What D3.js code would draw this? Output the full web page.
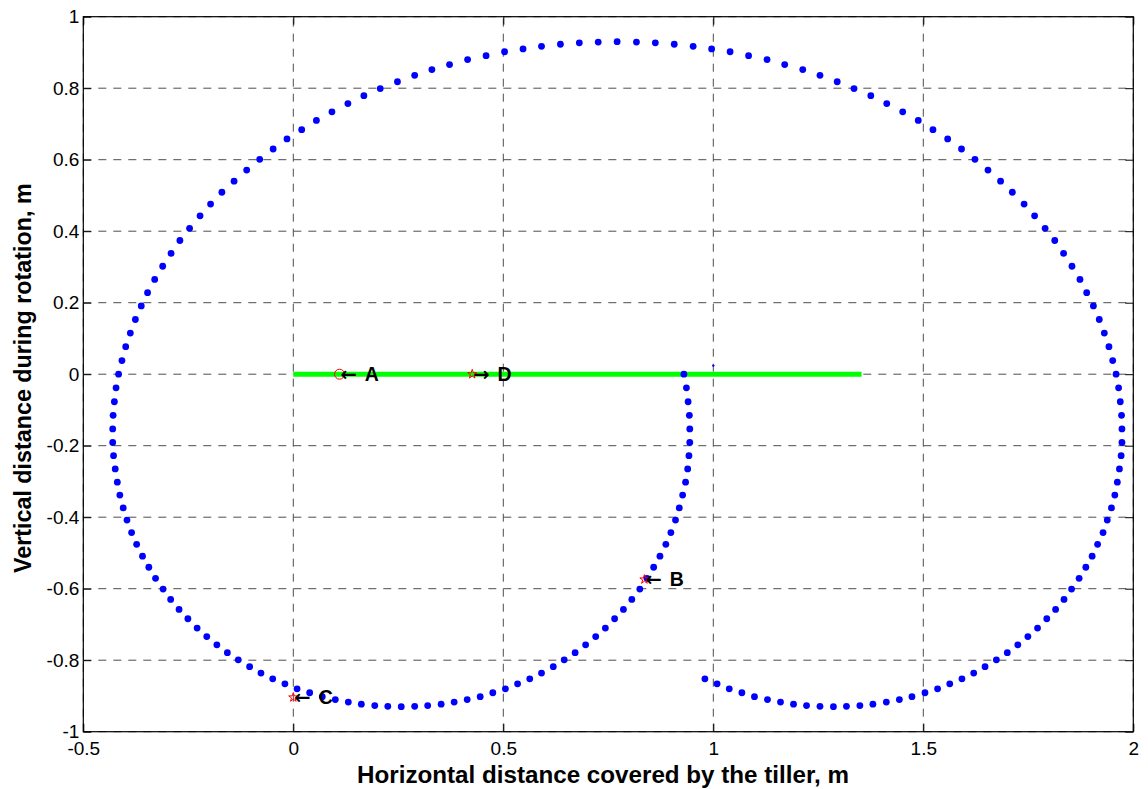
<!DOCTYPE html>
<html>
<head>
<meta charset="utf-8">
<script src="https://cdn.jsdelivr.net/npm/d3@7"></script>
<style>
  body { margin: 0; background: #fff; }
  text { font-family: "Liberation Sans", Arial, Helvetica, sans-serif; }
</style>
</head>
<body>
<svg id="chart" width="1148" height="789"></svg>
<script>
// Path of the blade tip (trochoid), one point per time step
const pathX = [
  0.930,0.936,0.940,0.943,0.944,0.944,0.942,0.939,0.934,0.927,0.919,0.910,0.899,0.887,0.873,0.858,0.842,0.825,0.806,0.786,
  0.765,0.743,0.720,0.696,0.671,0.645,0.619,0.591,0.563,0.534,0.505,0.475,0.445,0.414,0.383,0.352,0.320,0.289,
  0.257,0.225,0.194,0.162,0.131,0.100,0.069,0.039,0.009,-0.020,-0.049,-0.077,-0.104,-0.131,-0.157,-0.182,-0.206,-0.229,
  -0.251,-0.272,-0.292,-0.310,-0.328,-0.344,-0.359,-0.373,-0.385,-0.396,-0.405,-0.413,-0.419,-0.424,-0.428,-0.430,-0.430,-0.429,-0.426,-0.422,
  -0.416,-0.408,-0.399,-0.388,-0.376,-0.362,-0.347,-0.330,-0.311,-0.291,-0.270,-0.247,-0.222,-0.197,-0.170,-0.141,-0.111,-0.080,-0.048,-0.015,
  0.020,0.055,0.092,0.130,0.168,0.207,0.248,0.289,0.330,0.372,0.415,0.459,0.503,0.547,0.591,0.636,0.681,0.726,
  0.771,0.817,0.862,0.907,0.952,0.996,1.040,1.084,1.128,1.170,1.213,1.254,1.295,1.335,1.375,1.413,1.451,1.488,1.523,1.558,
  1.591,1.623,1.654,1.684,1.712,1.740,1.765,1.790,1.813,1.834,1.854,1.873,1.889,1.905,1.919,1.931,1.942,1.951,
  1.959,1.965,1.969,1.972,1.973,1.973,1.971,1.967,1.962,1.956,1.948,1.938,1.928,1.915,1.902,1.887,1.871,1.853,1.835,1.815,
  1.794,1.772,1.749,1.725,1.700,1.674,1.647,1.620,1.592,1.563,1.534,1.504,1.473,1.443,1.412,1.380,1.349,1.317,
  1.286,1.254,1.222,1.191,1.160,1.129,1.098,1.068,1.038,1.009,0.980
];
const pathY = [
  0,-0.038,-0.077,-0.115,-0.153,-0.191,-0.228,-0.265,-0.302,-0.338,-0.374,-0.408,-0.443,-0.476,-0.509,-0.540,-0.571,-0.601,-0.630,-0.658,
  -0.684,-0.710,-0.734,-0.757,-0.779,-0.799,-0.818,-0.836,-0.852,-0.866,-0.880,-0.891,-0.902,-0.910,-0.917,-0.923,-0.927,-0.929,
  -0.930,-0.929,-0.927,-0.923,-0.917,-0.910,-0.902,-0.891,-0.880,-0.866,-0.852,-0.836,-0.818,-0.799,-0.779,-0.757,-0.734,-0.710,
  -0.684,-0.658,-0.630,-0.601,-0.571,-0.540,-0.509,-0.476,-0.443,-0.408,-0.374,-0.338,-0.302,-0.265,-0.228,-0.191,-0.153,-0.115,-0.077,-0.038,
  0,0.038,0.077,0.115,0.153,0.191,0.228,0.265,0.302,0.338,0.374,0.408,0.443,0.476,0.509,0.540,0.571,0.601,0.630,0.658,
  0.684,0.710,0.734,0.757,0.779,0.799,0.818,0.836,0.852,0.866,0.880,0.891,0.902,0.910,0.917,0.923,0.927,0.929,
  0.930,0.929,0.927,0.923,0.917,0.910,0.902,0.891,0.880,0.866,0.852,0.836,0.818,0.799,0.779,0.757,0.734,0.710,0.684,0.658,
  0.630,0.601,0.571,0.540,0.509,0.476,0.443,0.408,0.374,0.338,0.302,0.265,0.228,0.191,0.153,0.115,0.077,0.038,
  0,-0.038,-0.077,-0.115,-0.153,-0.191,-0.228,-0.265,-0.302,-0.338,-0.374,-0.408,-0.443,-0.476,-0.509,-0.540,-0.571,-0.601,-0.630,-0.658,
  -0.684,-0.710,-0.734,-0.757,-0.779,-0.799,-0.818,-0.836,-0.852,-0.866,-0.880,-0.891,-0.902,-0.910,-0.917,-0.923,-0.927,-0.929,
  -0.930,-0.929,-0.927,-0.923,-0.917,-0.910,-0.902,-0.891,-0.880,-0.866,-0.852
];

// Forward travel of the tiller along the ground line
const trackX = [0, 1.353];
const trackY = [0, 0];

// Small stray point plotted just above the ground line
const strayX = [1.0];
const strayY = [0.024];

// Annotated positions
const markerNames = ["A", "D", "B", "C"];
const markerX = [0.11, 0.426, 0.836, 0.0];
const markerY = [0, 0, -0.574, -0.904];
const markerShape = ["circle", "star", "star", "star"];
const markerArrow = ["\u2190", "\u2192", "\u2190", "\u2190"];

const xTicks = [-0.5, 0, 0.5, 1, 1.5, 2];
const xTickLabels = ["-0.5", "0", "0.5", "1", "1.5", "2"];
const yTicks = [-1, -0.8, -0.6, -0.4, -0.2, 0, 0.2, 0.4, 0.6, 0.8, 1];
const yTickLabels = ["-1", "-0.8", "-0.6", "-0.4", "-0.2", "0", "0.2", "0.4", "0.6", "0.8", "1"];

const xTitle = "Horizontal distance covered by the tiller, m";
const yTitle = "Vertical distance during rotation, m";

// Layout
const plot = { left: 83.3, right: 1133.3, top: 16.7, bottom: 731.7 };
const svg = d3.select("#chart");

const x = d3.scaleLinear().domain([-0.5, 2]).range([plot.left, plot.right]);
const y = d3.scaleLinear().domain([-1, 1]).range([plot.bottom, plot.top]);

// Grid
const grid = svg.append("g").attr("stroke", "#4d4d4d").attr("stroke-width", 1)
  .attr("stroke-dasharray", "8,7");
grid.selectAll("line.gx").data(xTicks).join("line").attr("class", "gx")
  .attr("x1", d => x(d)).attr("x2", d => x(d))
  .attr("y1", plot.bottom).attr("y2", plot.top);
grid.selectAll("line.gy").data(yTicks).join("line").attr("class", "gy")
  .attr("x1", plot.left).attr("x2", plot.right)
  .attr("y1", d => y(d)).attr("y2", d => y(d));

// Axes (ticks pointing inward on all four sides)
const fmtX = (d, i) => xTickLabels[i];
const fmtY = (d, i) => yTickLabels[i];

function styleAxis(g) {
  g.select(".domain").remove();
  g.selectAll(".tick line").attr("stroke", "#000").attr("stroke-width", 1);
  g.selectAll(".tick text").attr("fill", "#000").style("font-size", "19px")
    .style("font-family", "'Liberation Sans', Arial, sans-serif");
}

svg.append("g").attr("transform", `translate(0,${plot.bottom})`)
  .call(d3.axisBottom(x).tickValues(xTicks).tickFormat(fmtX).tickSizeInner(-8).tickSizeOuter(0).tickPadding(10))
  .call(styleAxis);
svg.append("g").attr("transform", `translate(0,${plot.top})`)
  .call(d3.axisTop(x).tickValues(xTicks).tickFormat("").tickSizeInner(-8).tickSizeOuter(0))
  .call(styleAxis);
svg.append("g").attr("transform", `translate(${plot.left},0)`)
  .call(d3.axisLeft(y).tickValues(yTicks).tickFormat(fmtY).tickSizeInner(-8).tickSizeOuter(0).tickPadding(4))
  .call(styleAxis);
svg.append("g").attr("transform", `translate(${plot.right},0)`)
  .call(d3.axisRight(y).tickValues(yTicks).tickFormat("").tickSizeInner(-8).tickSizeOuter(0))
  .call(styleAxis);

// Ground line travelled by the tiller
svg.append("line")
  .attr("x1", x(trackX[0])).attr("x2", x(trackX[1]))
  .attr("y1", y(trackY[0])).attr("y2", y(trackY[1]))
  .attr("stroke", "#00ff00").attr("stroke-width", 5);

// Blade tip path
svg.append("g").selectAll("circle").data(pathX.map((v, i) => [v, pathY[i]])).join("circle")
  .attr("cx", d => x(d[0])).attr("cy", d => y(d[1])).attr("r", 3.4)
  .attr("fill", "#0000ff");

svg.append("g").selectAll("circle").data(strayX.map((v, i) => [v, strayY[i]])).join("circle")
  .attr("cx", d => x(d[0])).attr("cy", d => y(d[1])).attr("r", 1.2)
  .attr("fill", "#0000ff");

// Frame
svg.append("rect")
  .attr("x", plot.left).attr("y", plot.top)
  .attr("width", plot.right - plot.left).attr("height", plot.bottom - plot.top)
  .attr("fill", "none").attr("stroke", "#000").attr("stroke-width", 1.2);

// Markers and their labels
const marks = markerNames.map((n, i) => ({ n, x: markerX[i], y: markerY[i], s: markerShape[i], a: markerArrow[i] }));
const mg = svg.append("g");
mg.selectAll("path.mk").data(marks).join("path").attr("class", "mk")
  .attr("transform", d => `translate(${x(d.x)},${y(d.y)})`)
  .attr("d", d => d.s === "circle" ? d3.symbol(d3.symbolCircle, 78)() : d3.symbol(d3.symbolStar, 26)())
  .attr("fill", "none").attr("stroke", "#ff0000").attr("stroke-width", 1);

const lbl = mg.selectAll("text.lb").data(marks).join("text").attr("class", "lb")
  .attr("x", d => x(d.x) + 1).attr("y", d => y(d.y)).attr("dy", "0.36em")
  .style("font-size", "19.5px").style("font-weight", "bold").attr("fill", "#000");
lbl.append("tspan").style("font-family", "'DejaVu Sans', sans-serif").text(d => d.a);
lbl.append("tspan").attr("dx", 8).text(d => d.n);

// Axis titles
svg.append("text")
  .attr("x", 603).attr("y", 783)
  .attr("text-anchor", "middle").style("font-size", "24.2px").style("font-weight", "bold")
  .text(xTitle);
svg.append("text")
  .attr("transform", `translate(31,${(plot.top + plot.bottom) / 2 + 4}) rotate(-90)`)
  .attr("text-anchor", "middle").style("font-size", "23.3px").style("font-weight", "bold")
  .text(yTitle);
</script>
</body>
</html>
